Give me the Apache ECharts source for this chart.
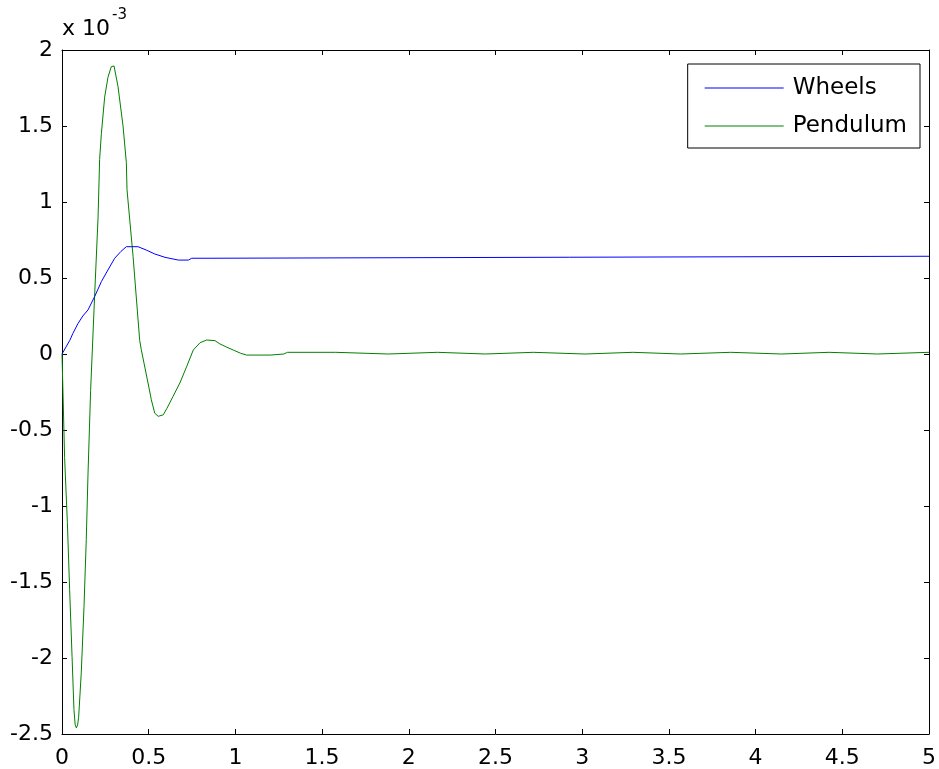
<!DOCTYPE html>
<html>
<head>
<meta charset="utf-8">
<script src="https://cdn.jsdelivr.net/npm/echarts@6/dist/echarts.min.js"></script>
<style>
html,body{margin:0;padding:0;background:#fff;}
#chart{width:939px;height:769px;}
</style>
</head>
<body>
<div id="chart"></div>
<script>
// Values in units of 1e-3
var seriesNames = ['Wheels', 'Pendulum'];
var wheelsData = [
  [0,0],[0.02,0.04],[0.045,0.09],[0.063,0.136],[0.092,0.20],[0.12,0.25],[0.15,0.29],[0.188,0.377],
  [0.227,0.476],[0.265,0.553],[0.304,0.63],[0.34,0.675],[0.371,0.706],[0.438,0.706],[0.486,0.684],
  [0.535,0.658],[0.594,0.636],[0.671,0.618],[0.729,0.618],[0.748,0.63],[0.854,0.63],[0.863,0.643],[5,0.643]
];
var pendulumData = [
  [0,0],[0.015,-0.68],[0.031,-1.11],[0.044,-1.55],[0.058,-1.99],[0.069,-2.34],[0.076,-2.44],[0.083,-2.46],
  [0.090,-2.44],[0.096,-2.39],[0.111,-2.10],[0.127,-1.66],[0.140,-1.22],[0.150,-0.79],[0.165,-0.24],
  [0.188,0.38],[0.208,0.90],[0.217,1.28],[0.227,1.45],[0.246,1.69],[0.265,1.82],[0.284,1.89],[0.300,1.895],
  [0.323,1.76],[0.352,1.50],[0.371,1.26],[0.375,1.08],[0.41,0.64],[0.448,0.09],[0.457,0.03],[0.496,-0.19],
  [0.515,-0.30],[0.535,-0.39],[0.555,-0.41],[0.584,-0.40],[0.604,-0.36],[0.64,-0.28],[0.680,-0.19],
  [0.72,-0.08],[0.757,0.026],[0.796,0.074],[0.834,0.092],[0.882,0.088],[0.911,0.066],[0.95,0.045],
  [0.988,0.026],[1.03,0.005],[1.065,-0.007],[1.2,-0.007],[1.21,0],[1.28,0],[1.30,0.011],
  [1.579,0.011],[1.589,0],[1.882,0],[1.892,0.011],[2.165,0.011],[2.175,0],[2.441,0],[2.451,0.011],
  [2.718,0.011],[2.728,0],[3.016,0],[3.026,0.011],[3.292,0.011],[3.302,0],[3.568,0],[3.578,0.011],
  [3.856,0.011],[3.866,0],[4.15,0],[4.16,0.011],[4.424,0.011],[4.434,0],[4.703,0],[4.713,0.011],[5,0.011]
];
var xTicks = {min: 0, max: 5, interval: 0.5};
var yTicks = {min: -2.5, max: 2, interval: 0.5};
var multiplierText = 'x 10';
var exponentText = '-3';

var FONT = '"DejaVu Sans", Arial, sans-serif';
var chart = echarts.init(document.getElementById('chart'), null, {renderer: 'canvas'});
function axisCommon() {
  return {
    axisLine: {show: true, onZero: false, lineStyle: {color: '#000', width: 1}},
    axisTick: {show: true, inside: true, length: 5, lineStyle: {color: '#000', width: 1}},
    splitLine: {show: false}
  };
}
var option = {
  animation: false,
  backgroundColor: '#fff',
  grid: {left: 62, right: 10, top: 50, bottom: 35, containLabel: false, outerBoundsMode: 'none'},
  legend: {
    orient: 'vertical', right: 19, top: 64,
    padding: [12, 13, 10, 17],
    itemGap: 14, itemWidth: 79, itemHeight: 1,
    icon: 'rect',
    backgroundColor: '#fff', borderColor: '#000', borderWidth: 1, borderRadius: 0,
    textStyle: {fontFamily: FONT, fontSize: 23, color: '#000', lineHeight: 24, padding: [0, 0, 0, 4]},
    data: seriesNames
  },
  xAxis: [
    Object.assign({type: 'value', position: 'bottom', min: xTicks.min, max: xTicks.max, interval: xTicks.interval,
      axisLabel: {show: true, margin: 13, fontFamily: FONT, fontSize: 22, color: '#000'}}, axisCommon()),
    Object.assign({type: 'value', position: 'top', min: xTicks.min, max: xTicks.max, interval: xTicks.interval,
      axisLabel: {show: false}}, axisCommon())
  ],
  yAxis: [
    Object.assign({type: 'value', position: 'left', min: yTicks.min, max: yTicks.max, interval: yTicks.interval,
      axisLabel: {show: true, margin: 9, fontFamily: FONT, fontSize: 22, color: '#000'}}, axisCommon()),
    Object.assign({type: 'value', position: 'right', min: yTicks.min, max: yTicks.max, interval: yTicks.interval,
      axisLabel: {show: false}}, axisCommon())
  ],
  graphic: [
    {type: 'text', left: 62, top: 18, style: {text: multiplierText, font: '22px ' + FONT, fill: '#000'}},
    {type: 'text', left: 112, top: 8, style: {text: exponentText, font: '15px ' + FONT, fill: '#000'}}
  ],
  series: [
    {name: seriesNames[0], type: 'line', data: wheelsData, symbol: 'none', showSymbol: false,
      lineStyle: {color: '#0000ff', width: 1}, itemStyle: {color: '#0000ff'}, z: 3},
    {name: seriesNames[1], type: 'line', data: pendulumData, symbol: 'none', showSymbol: false,
      lineStyle: {color: '#008000', width: 1}, itemStyle: {color: '#008000'}, z: 2}
  ]
};
chart.setOption(option);
</script>
</body>
</html>
